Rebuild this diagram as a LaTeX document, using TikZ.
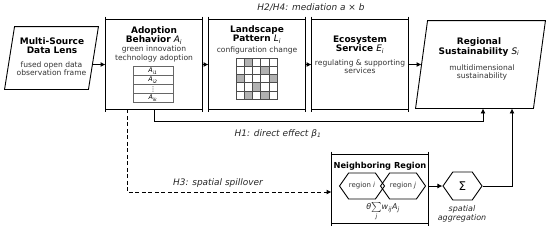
\documentclass[tikz,border=0pt]{standalone}
\usepackage{fontspec}
\setmainfont{DejaVu Sans}
\usetikzlibrary{matrix,positioning,shapes.symbols,arrows.meta}
\newcommand\subvar[2]{\textnormal{\textit{#1}\textsubscript{\textit{#2}}}}
\tikzset{
mat/.style={matrix of nodes,nodes in empty cells,
nodes={draw=black!60,line width=0.6bp,minimum width=40bp,minimum height=9.3bp,inner sep=0pt,font=\fontsize{6.5}{7}\selectfont},
row sep=-\pgflinewidth,column sep=-\pgflinewidth,anchor=center},
procbox/.style={minimum width=96bp,minimum height=89bp,inner sep=0pt},
slantbox/.style={inner sep=0pt},
hexa/.style={signal,signal to=west and east,signal pointer angle=110,draw,inner sep=0pt},
ttl/.style={font=\fontsize{9}{9.6}\selectfont\bfseries,align=center,inner sep=0pt,text=black},
body/.style={font=\fontsize{7.6}{8.6}\selectfont,align=center,inner sep=0pt,text=black!80},
hyp/.style={font=\fontsize{9}{10}\selectfont\itshape,inner sep=0pt,text=black!85},
cellfill/.style={fill=black!30},
cellline/.style={draw=black!70,line width=0.5bp},
arr/.style={-{Latex[length=5bp,width=5bp]}},
spillarr/.style={-{Latex[length=5bp,width=5bp]},dashed,dash pattern=on 4bp off 2.5bp}
}
\begin{document}
\begin{tikzpicture}[x=1bp,y=-1bp,line width=0.9bp]
\useasboundingbox (0,0) rectangle (550,233);
% main chain
\node[slantbox,minimum width=93bp,minimum height=62bp] (lens) at (51.5,58) {};
\draw ([xshift=10bp]lens.north west) -- (lens.north east) -- ([xshift=-10bp]lens.south east) -- (lens.south west) -- cycle;
\node[ttl] (lensT) at (52,45.5) {Multi-Source\\Data Lens};
\node[body] (lensB) at (51.5,68.5) {fused open data\\observation frame};

\node[procbox] (adopt) at (154,64.5) {};
\node[ttl] (adoptT) at (154,35.5) {Adoption\\Behavior \subvar{A}{i}};
\node[body] (adoptB) at (154,54) {green innovation\\technology adoption};
\matrix (amat) [mat] at (153,84.5) {
\subvar{A}{i1} \\
\subvar{A}{i2} \\
⋮ \\
\subvar{A}{ik} \\
};

\node[procbox] (land) at (257,64.5) {};
\node[ttl] (landT) at (257,34.5) {Landscape\\Pattern \subvar{L}{i}};
\node[body] (landB) at (257,50) {configuration change};
\foreach \c/\r in {1/0,3/1,0/2,4/2,2/3,1/4,3/4}
\fill[cellfill] (236+\c*8.2,58+\r*8.2) rectangle ++(8.2,8.2);
\foreach \r in {0,...,4}
\foreach \c in {0,...,4}
\draw[cellline] (236+\c*8.2,58+\r*8.2) rectangle ++(8.2,8.2);

\node[procbox] (eco) at (360,64.5) {};
\node[ttl] (ecoT) at (360,44.5) {Ecosystem\\Service \subvar{E}{i}};
\node[body] (ecoB) at (360,66.5) {regulating \& supporting\\services};

\node[slantbox,minimum width=129bp,minimum height=87bp] (reg) at (480.5,64.5) {};
\draw ([xshift=12bp]reg.north west) -- (reg.north east) -- ([xshift=-12bp]reg.south east) -- (reg.south west) -- cycle;
\node[ttl] (regT) at (479,47) {Regional\\Sustainability \subvar{S}{i}};
\node[body] (regB) at (482,72.5) {multidimensional\\sustainability};

% neighbours
\node[minimum width=96bp,minimum height=68bp,inner sep=0pt] (neigh) at (380,189) {};
\node[ttl,font=\fontsize{8.3}{9}\selectfont\bfseries] (neighT) at (380,166) {Neighboring Region};
\node[hexa,minimum width=45bp,minimum height=26bp,font=\fontsize{7}{8}\selectfont,text=black!80] (regi) at (362,186) {region \textit{i}};
\node[hexa,minimum width=45bp,minimum height=26bp,font=\fontsize{7}{8}\selectfont,text=black!80] (regj) at (403,186) {region \textit{j}};
\node[inner sep=0pt,font=\fontsize{8}{9}\selectfont,text=black!85] (wsum) at (383,212) {\textit{θ}$\sum\limits_{\mathit{j}}$\textit{w}\textsubscript{\textit{ij}}\textit{A}\textsubscript{\textit{j}}};

\node[hexa,minimum width=39bp,minimum height=28bp,font=\fontsize{12}{12}\selectfont] (agg) at (462.5,186) {Σ};
\node[hyp,font=\fontsize{8}{9}\selectfont\itshape,align=center] (aggL) at (462,214) {spatial\\aggregation};

% bracket frames
\foreach \n in {adopt,land,eco,neigh} {
\draw (\n.north west) -- (\n.north east) (\n.south west) -- (\n.south east);
\draw ([yshift=3bp]\n.north west) -- ([yshift=-3bp]\n.south west);
\draw ([yshift=3bp]\n.north east) -- ([yshift=-3bp]\n.south east);
}

% connectors
\draw[arr] ([xshift=-6bp]lens.east |- adopt.west) -- (adopt.west);
\draw[arr] (adopt.east) -- (land.west);
\draw[arr] (land.east) -- (eco.west);
\draw[arr] (eco.east) -- ([xshift=6bp]reg.west);

\coordinate (h1turn) at (483,121);
\draw[arr] (adopt.south) |- (h1turn) -- (h1turn |- reg.south);
\node[hyp] (h1) at (278,134) {H1: direct effect \textit{β}\textsubscript{1}};

\coordinate (h3bend) at (127,192);
\draw[spillarr] (h3bend |- adopt.south) -- (h3bend) -- (h3bend -| neigh.west);
\node[hyp] (h3) at (218,183) {H3: spatial spillover};

\draw[arr] (neigh.east |- agg.west) -- (agg.west);
\coordinate (aggup) at (512,186);
\draw[arr] (agg.east) -- (aggup) -- (aggup |- reg.south);

\node[hyp] (h2) at (311,8) {H2/H4: mediation \textit{a} × \textit{b}};
\end{tikzpicture}
\end{document}
